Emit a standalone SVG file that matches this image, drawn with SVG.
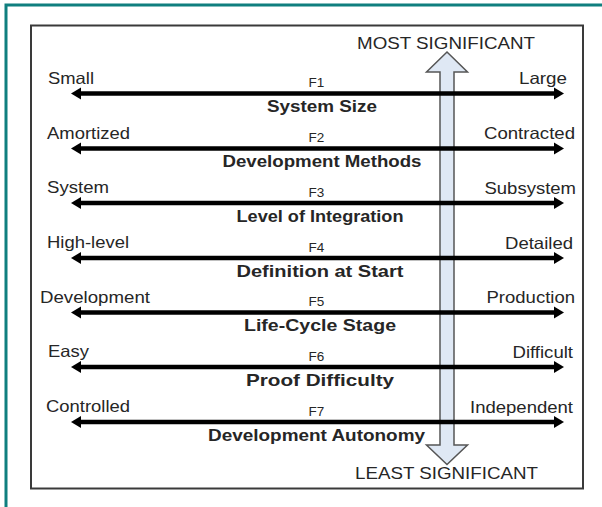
<svg xmlns="http://www.w3.org/2000/svg" width="602" height="507" viewBox="0 0 602 507">
<style>
text{font-family:"Liberation Sans",Arial,sans-serif;fill:#262626}
.lab{font-size:16.5px}
.f{font-size:13.5px;text-anchor:middle}
.t{font-size:16.5px;font-weight:bold;text-anchor:middle}
.r{text-anchor:end}
.shaft{stroke:#000;stroke-width:4.5}
.head{fill:#000}
</style>
<rect x="6" y="5" width="640" height="560" fill="none" stroke="#0f7f7f" stroke-width="3"/>
<rect x="31" y="25.5" width="552" height="463" fill="#fff" stroke="#3a3a3a" stroke-width="2"/>
<g id="significance-axis">
<polygon points="447,52 467.5,72 454,72 454,445 467.5,445 447,464.5 426.5,445 440,445 440,72 426.5,72" fill="#dfe8f4" stroke="#555" stroke-width="1.5" stroke-linejoin="miter"/>
<text class="lab" x="446" y="49" text-anchor="middle" textLength="178" lengthAdjust="spacingAndGlyphs">MOST SIGNIFICANT</text>
<text class="lab" x="446.5" y="479" text-anchor="middle" textLength="183" lengthAdjust="spacingAndGlyphs">LEAST SIGNIFICANT</text>
</g>
<g id="connectors">
<line class="shaft" x1="78" y1="93.5" x2="557" y2="93.5"/>
<line class="shaft" x1="78" y1="148.5" x2="557" y2="148.5"/>
<line class="shaft" x1="78" y1="203" x2="557" y2="203"/>
<line class="shaft" x1="78" y1="258" x2="557" y2="258"/>
<line class="shaft" x1="78" y1="312.5" x2="557" y2="312.5"/>
<line class="shaft" x1="78" y1="367" x2="557" y2="367"/>
<line class="shaft" x1="78" y1="422" x2="557" y2="422"/>
</g>
<g id="f1">
<polygon class="head" points="71,93.5 81,87.5 81,99.5"/><polygon class="head" points="564,93.5 554,87.5 554,99.5"/>
<text class="lab" x="48" y="83.5" textLength="46" lengthAdjust="spacingAndGlyphs">Small</text>
<text class="lab r" x="567" y="84" textLength="48" lengthAdjust="spacingAndGlyphs">Large</text>
<text class="f" x="316.5" y="87">F1</text>
<text class="t" x="322" y="112" textLength="110" lengthAdjust="spacingAndGlyphs">System Size</text>
</g>
<g id="f2">
<polygon class="head" points="71,148.5 81,142.5 81,154.5"/><polygon class="head" points="564,148.5 554,142.5 554,154.5"/>
<text class="lab" x="47" y="138.5" textLength="83" lengthAdjust="spacingAndGlyphs">Amortized</text>
<text class="lab r" x="575" y="139" textLength="91" lengthAdjust="spacingAndGlyphs">Contracted</text>
<text class="f" x="316.5" y="142">F2</text>
<text class="t" x="322" y="167" textLength="199" lengthAdjust="spacingAndGlyphs">Development Methods</text>
</g>
<g id="f3">
<polygon class="head" points="71,203 81,197 81,209"/><polygon class="head" points="564,203 554,197 554,209"/>
<text class="lab" x="47" y="193" textLength="62" lengthAdjust="spacingAndGlyphs">System</text>
<text class="lab r" x="576" y="193.5" textLength="91.5" lengthAdjust="spacingAndGlyphs">Subsystem</text>
<text class="f" x="316.5" y="196.5">F3</text>
<text class="t" x="320" y="221.5" textLength="167" lengthAdjust="spacingAndGlyphs">Level of Integration</text>
</g>
<g id="f4">
<polygon class="head" points="71,258 81,252 81,264"/><polygon class="head" points="564,258 554,252 554,264"/>
<text class="lab" x="47" y="248" textLength="82" lengthAdjust="spacingAndGlyphs">High-level</text>
<text class="lab r" x="573" y="248.5" textLength="68" lengthAdjust="spacingAndGlyphs">Detailed</text>
<text class="f" x="316.5" y="251.5">F4</text>
<text class="t" x="320" y="276.5" textLength="167" lengthAdjust="spacingAndGlyphs">Definition at Start</text>
</g>
<g id="f5">
<polygon class="head" points="71,312.5 81,306.5 81,318.5"/><polygon class="head" points="564,312.5 554,306.5 554,318.5"/>
<text class="lab" x="40" y="302.5" textLength="110" lengthAdjust="spacingAndGlyphs">Development</text>
<text class="lab r" x="575" y="303" textLength="88.5" lengthAdjust="spacingAndGlyphs">Production</text>
<text class="f" x="316.5" y="306">F5</text>
<text class="t" x="320" y="331" textLength="152" lengthAdjust="spacingAndGlyphs">Life-Cycle Stage</text>
</g>
<g id="f6">
<polygon class="head" points="71,367 81,361 81,373"/><polygon class="head" points="564,367 554,361 554,373"/>
<text class="lab" x="48" y="357" textLength="41" lengthAdjust="spacingAndGlyphs">Easy</text>
<text class="lab r" x="573" y="357.5" textLength="60.5" lengthAdjust="spacingAndGlyphs">Difficult</text>
<text class="f" x="316.5" y="360.5">F6</text>
<text class="t" x="320" y="385.5" textLength="148" lengthAdjust="spacingAndGlyphs">Proof Difficulty</text>
</g>
<g id="f7">
<polygon class="head" points="71,422 81,416 81,428"/><polygon class="head" points="564,422 554,416 554,428"/>
<text class="lab" x="46" y="412" textLength="84" lengthAdjust="spacingAndGlyphs">Controlled</text>
<text class="lab r" x="573" y="412.5" textLength="103" lengthAdjust="spacingAndGlyphs">Independent</text>
<text class="f" x="316.5" y="415.5">F7</text>
<text class="t" x="316.5" y="440.5" textLength="217" lengthAdjust="spacingAndGlyphs">Development Autonomy</text>
</g>
</svg>
